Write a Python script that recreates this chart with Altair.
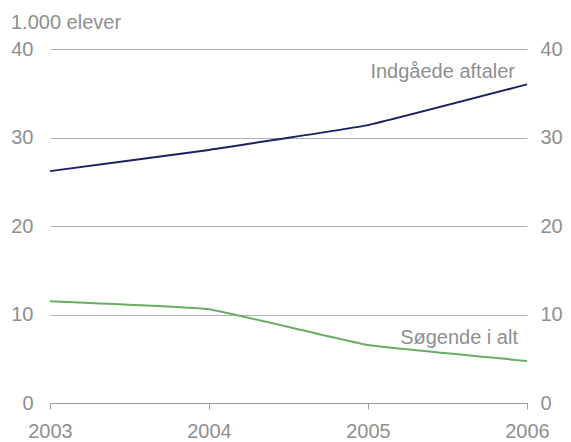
import altair as alt
import pandas as pd

years = [2003, 2004, 2005, 2006]
indgaede = [26.2, 28.6, 31.4, 36.0]
soegende = [11.5, 10.6, 6.55, 4.75]
series_names = ["Indgåede aftaler", "Søgende i alt"]
colors = ["#1c2060", "#6aac64"]

rows = []
for y, v in zip(years, indgaede):
    rows.append({"year": y, "value": v, "series": series_names[0]})
for y, v in zip(years, soegende):
    rows.append({"year": y, "value": v, "series": series_names[1]})
df = pd.DataFrame(rows)

labels = pd.DataFrame({
    "year": [2006, 2006],
    "value": [37.4, 7.3],
    "text": series_names,
})

FONT = "Liberation Sans"
GRAY = "#8f8f8f"
FS = 20
xscale = alt.Scale(domain=[2003, 2006], nice=False, zero=False)
yscale = alt.Scale(domain=[0, 40], nice=False)

xaxis = alt.Axis(values=years, format="d", title=None, grid=False,
                 domain=True, domainColor="#a0a0a0", ticks=True, tickSize=6,
                 tickColor="#a0a0a0", labelPadding=12, labelFontSize=FS,
                 labelColor=GRAY, labelFont=FONT, labelFlush=False)
x = alt.X("year:Q", scale=xscale, axis=xaxis)

lines = alt.Chart(df).mark_line(strokeWidth=2, interpolate="cardinal", tension=0.75).encode(
    x=x,
    y=alt.Y("value:Q", scale=yscale,
            axis=alt.Axis(values=[0, 10, 20, 30, 40], title=None, orient="left",
                          domain=False, ticks=False, grid=True, gridColor="#b0b0b0",
                          gridWidth=1, labelPadding=17, labelFontSize=FS,
                          labelColor=GRAY, labelFont=FONT)),
    color=alt.Color("series:N", scale=alt.Scale(domain=series_names, range=colors), legend=None),
)

right_axis = alt.Chart(df).mark_point(opacity=0).encode(
    y=alt.Y("value:Q", scale=yscale,
            axis=alt.Axis(values=[0, 10, 20, 30, 40], title=None, orient="right",
                          domain=False, ticks=False, grid=False, labelPadding=13,
                          labelFontSize=FS, labelColor=GRAY, labelFont=FONT)),
    x=x,
)

text1 = alt.Chart(labels.iloc[[0]]).mark_text(
    align="right", baseline="middle", dx=-12, fontSize=FS, color=GRAY, font=FONT
).encode(x=x, y=alt.Y("value:Q", scale=yscale, axis=None), text="text:N")
text2 = alt.Chart(labels.iloc[[1]]).mark_text(
    align="right", baseline="middle", dx=-9, fontSize=FS, color=GRAY, font=FONT
).encode(x=x, y=alt.Y("value:Q", scale=yscale, axis=None), text="text:N")

title = alt.Chart(pd.DataFrame({"t": ["1.000 elever"]})).mark_text(
    align="left", baseline="middle", fontSize=FS, color=GRAY, font=FONT
).encode(x=alt.value(-39), y=alt.value(-26), text="t:N")

chart = alt.layer(lines, right_axis, text1, text2, title).resolve_scale(
    y="independent"
).properties(
    width=477, height=354,
    autosize=alt.AutoSizeParams(type="none"),
    padding={"left": 42, "top": 41, "right": 36, "bottom": 40},
).configure_view(stroke=None)

chart.save("out.html", embed_options={"renderer": "svg", "actions": False})
